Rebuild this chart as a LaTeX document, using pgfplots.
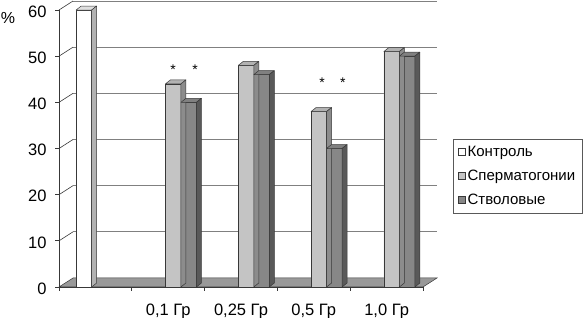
\documentclass[border=0pt]{standalone}
\usepackage{pgfplots}
\pgfplotsset{compat=1.18}
\usepackage{pgfplotstable}
\usepackage{fontspec}
\setmainfont{Liberation Sans}
\definecolor{floorc}{gray}{0.60}
\definecolor{gridc}{gray}{0.5}
\definecolor{edgec}{gray}{0.22}
\definecolor{ctrlF}{gray}{1.0}
\definecolor{ctrlT}{gray}{0.88}
\definecolor{ctrlS}{gray}{0.70}
\definecolor{spF}{gray}{0.77}
\definecolor{spT}{gray}{0.70}
\definecolor{spS}{gray}{0.55}
\definecolor{stF}{gray}{0.53}
\definecolor{stT}{gray}{0.50}
\definecolor{stS}{gray}{0.35}
\pgfdeclareplotmark{none3d}{}
\pgfplotstableread{
x sp st
1.5 44 40
2.5 48 46
3.5 38 30
4.5 51 50
}\dat
\pgfplotstableread{
x c
0.5 60
}\ctrl
% 3D faces: #1 shift (pt), #2 top colour, #3 side colour
\pgfplotsset{
  faces3d/.style n args={3}{
    only marks, mark=none3d, scatter, forget plot,
    visualization depends on={rawy \as \hv},
    scatter/@pre marker code/.code={%
      \pgfmathsetmacro\hh{\hv*4.616667}%
      \pgfmathsetmacro\L{#1-7.75}%
      \pgfmathsetmacro\R{#1+7.75}%
      \filldraw[fill=#2, draw=edgec, line width=0.5pt, line join=round]
        (\L pt,0pt) -- (\L pt+5pt,4pt) -- (\R pt+5pt,4pt) -- (\R pt,0pt) -- cycle;
      \filldraw[fill=#3, draw=edgec, line width=0.5pt, line join=round]
        (\R pt,0pt) -- (\R pt+5pt,4pt) -- (\R pt+5pt,-\hh pt+4pt) -- (\R pt,-\hh pt) -- cycle;
    },
    scatter/@post marker code/.code={},
  },
  front/.style n args={2}{
    ybar, bar width=15.5pt, bar shift=#1pt, fill=#2, draw=edgec, line width=0.5pt, forget plot
  },
}
\begin{document}
\begin{tikzpicture}[x=1pt,y=1pt]
\path[use as bounding box] (0,0) rectangle (583,318);
\begin{axis}[
  at={(59pt,31pt)}, anchor=south west,
  scale only axis, width=364pt, height=277pt,
  xmin=0, xmax=5, ymin=0, ymax=60,
  clip=false, axis on top,
  axis lines*=left,
  axis line style={-, draw=edgec, line width=0.8pt},
  ytick={0,10,...,60},
  xtick={0,1,2,3,4,5},
  x tick label as interval,
  xticklabels={{},{0,1 Гр},{0,25 Гр},{0,5 Гр},{1,0 Гр}},
  tick align=outside,
  major tick length=4pt,
  tick style={draw=edgec, line width=0.8pt},
  tick label style={font=\fontsize{16.5}{19}\selectfont},
  yticklabel style={xshift=-5pt, yshift=-1.5pt},
  xticklabel style={yshift=-9.5pt},
  /pgf/number format/assume math mode=true,
  legend style={at={(1.082,0.536)}, anchor=north west, draw=black!65, line width=0.6pt,
    font=\fontsize{15}{18}\selectfont, inner xsep=5pt, inner ysep=5.5pt,
    row sep=8pt},
  legend cell align=left,
  legend image code/.code={\draw[#1, line width=0.5pt] (0pt,-3.5pt) rectangle (7pt,3.5pt);},
]
% back wall gridlines and left wall lines
\pgfplotsinvokeforeach{10,20,30,40,50,60}{
  \draw[gridc, line width=0.7pt] ([shift={(14pt,9pt)}]axis cs:0,#1) -- ([shift={(14pt,9pt)}]axis cs:5,#1);
  \draw[edgec, line width=0.6pt] (axis cs:0,#1) -- ([shift={(14pt,9pt)}]axis cs:0,#1);
}
% floor
\filldraw[fill=floorc, draw=edgec, line width=0.5pt] (axis cs:0,0) -- (axis cs:5,0) -- ([shift={(14pt,9pt)}]axis cs:5,0) -- ([shift={(14pt,9pt)}]axis cs:0,0) -- cycle;
% bars
\addplot[front={-11.5}{ctrlF}] table[x=x,y=c] {\ctrl};
\addplot[faces3d={-11.5}{ctrlT}{ctrlS}] table[x=x,y=c] {\ctrl};
\addplot[front={5}{spF}] table[x=x,y=sp] {\dat};
\addplot[faces3d={5}{spT}{spS}] table[x=x,y=sp] {\dat};
\addplot[front={20.5}{stF}] table[x=x,y=st] {\dat};
\addplot[faces3d={20.5}{stT}{stS}] table[x=x,y=st] {\dat};
% significance marks
\node[anchor=base, font=\fontsize{14}{16}\selectfont] at (axis cs:1.566,46.0) {*};
\node[anchor=base, font=\fontsize{14}{16}\selectfont] at (axis cs:1.868,46.0) {*};
\node[anchor=base, font=\fontsize{14}{16}\selectfont] at (axis cs:3.613,43.2) {*};
\node[anchor=base, font=\fontsize{14}{16}\selectfont] at (axis cs:3.90,43.2) {*};
\addlegendimage{draw=edgec, fill=ctrlF}
\addlegendentry{Контроль}
\addlegendimage{draw=edgec, fill=spF}
\addlegendentry{Сперматогонии}
\addlegendimage{draw=edgec, fill=stF}
\addlegendentry{Стволовые}
\end{axis}
\node[font=\fontsize{16}{18}\selectfont] at (8,300) {\%};
\end{tikzpicture}
\end{document}
